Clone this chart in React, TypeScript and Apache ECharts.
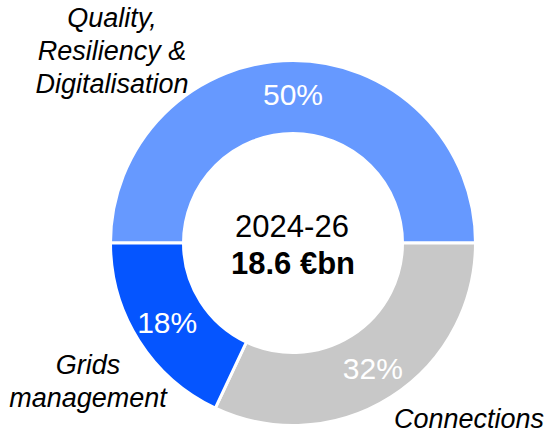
import React, { useEffect, useRef } from "react";
import * as echarts from "echarts";

const categories = ["Quality,\nResiliency &\nDigitalisation", "Connections", "Grids\nmanagement"];
const shares = [50, 32, 18];
const colors = ["#6699FF", "#C8C8C8", "#0555FF"];
const centerTitle = "2024-26";
const centerValue = "18.6 €bn";

export default function App() {
  const ref = useRef<HTMLDivElement>(null);
  useEffect(() => {
    if (!ref.current) return;
    const chart = echarts.init(ref.current, undefined, { renderer: "svg" });
    const font = "'Liberation Sans', Arial, sans-serif";
    const labelPos = [
      { x: 112, y: 51 },
      { x: 469, y: 419 },
      { x: 88, y: 381 },
    ];
    chart.setOption({
      animation: false,
      backgroundColor: "#ffffff",
      series: [
        {
          type: "pie",
          center: [293, 243],
          radius: [109.5, 182.5],
          startAngle: 180,
          clockwise: true,
          silent: true,
          itemStyle: { borderColor: "#ffffff", borderWidth: 3 },
          label: {
            show: true,
            position: "inside",
            color: "#ffffff",
            fontFamily: font,
            fontSize: 30,
            formatter: (p: any) => p.value + "%",
          },
          labelLine: { show: false },
          data: shares.map((v, i) => ({
            value: v,
            name: categories[i],
            itemStyle: { color: colors[i] },
          })),
        },
      ],
      graphic: [
        ...categories.map((c, i) => ({
          type: "text",
          x: labelPos[i].x,
          y: labelPos[i].y,
          style: {
            text: c,
            fontFamily: font,
            fontStyle: "italic",
            fontSize: 27,
            lineHeight: 33,
            fill: "#000000",
            align: "center",
            verticalAlign: "middle",
          },
        })),
        {
          type: "text",
          x: 292,
          y: 226,
          style: {
            text: centerTitle,
            fontFamily: font,
            fontSize: 31,
            fill: "#000000",
            align: "center",
            verticalAlign: "middle",
          },
        },
        {
          type: "text",
          x: 293,
          y: 263,
          style: {
            text: centerValue,
            fontFamily: font,
            fontSize: 31,
            fontWeight: "bold",
            fill: "#000000",
            align: "center",
            verticalAlign: "middle",
          },
        },
      ],
    });
    return () => chart.dispose();
  }, []);
  return (
    <div
      ref={ref}
      style={{ position: "fixed", left: 0, top: 0, width: 550, height: 436 }}
    />
  );
}
